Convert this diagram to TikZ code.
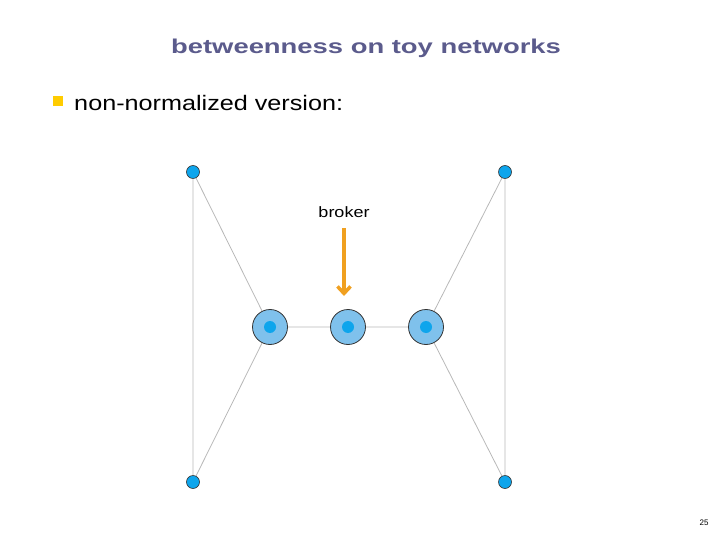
\documentclass[tikz,border=0pt]{standalone}
\usepackage{fontspec}
\setmainfont{Liberation Sans}
\usetikzlibrary{arrows.meta}
\definecolor{titlec}{HTML}{5B5B8C}
\definecolor{nodeo}{HTML}{7FC1EC}
\definecolor{nodei}{HTML}{0EA5EC}
\definecolor{edgec}{HTML}{B8B8B8}
\definecolor{arrowc}{HTML}{F0A020}
\definecolor{bulletc}{HTML}{FFCC00}
\begin{document}
\begin{tikzpicture}[x=1pt,y=-1pt,
  small/.style={circle,draw=black!80,fill=nodei,line width=0.6pt,minimum size=13pt,inner sep=0pt},
  big/.style={circle,draw=black!80,fill=nodeo,line width=0.8pt,minimum size=35pt,inner sep=0pt,
     path picture={\fill[nodei] (path picture bounding box.center) circle (6pt);}},
  edge/.style={draw=edgec,line width=0.8pt}]
\useasboundingbox (0,0) rectangle (720,540);
\node[font=\bfseries\fontsize{20}{22}\selectfont,text=titlec,xscale=1.37] (title) at (366,48) {betweenness on toy networks};
\node[fill=bulletc,minimum size=10pt,inner sep=0pt] (bul) at (58,101) {};
\node[anchor=west,font=\fontsize{21}{24}\selectfont,xscale=1.2,inner sep=0pt] (txt) at (74,103) {non-normalized version:};
\node[small] (tl) at (193,172) {};
\node[small] (bl) at (193,482) {};
\node[small] (tr) at (505,172) {};
\node[small] (br) at (505,482) {};
\node[big] (l) at (270,327) {};
\node[big] (m) at (348,327) {};
\node[big] (r) at (426,327) {};
\draw[edge] (tl)--(bl) (tr)--(br) (tl)--(l) (bl)--(l) (tr)--(r) (br)--(r) (l)--(m) (m)--(r);
\node[font=\fontsize{15}{17}\selectfont,xscale=1.2] (brk) at (344,212) {broker};
\coordinate (as) at (344,228);
\coordinate (ae) at (344,296);
\draw[arrowc,line width=3.5pt,-{Straight Barb[length=7pt,width=13pt]}] (as)--(ae);
\node[font=\fontsize{8}{9}\selectfont] (pg) at (704,523) {25};
\end{tikzpicture}
\end{document}
